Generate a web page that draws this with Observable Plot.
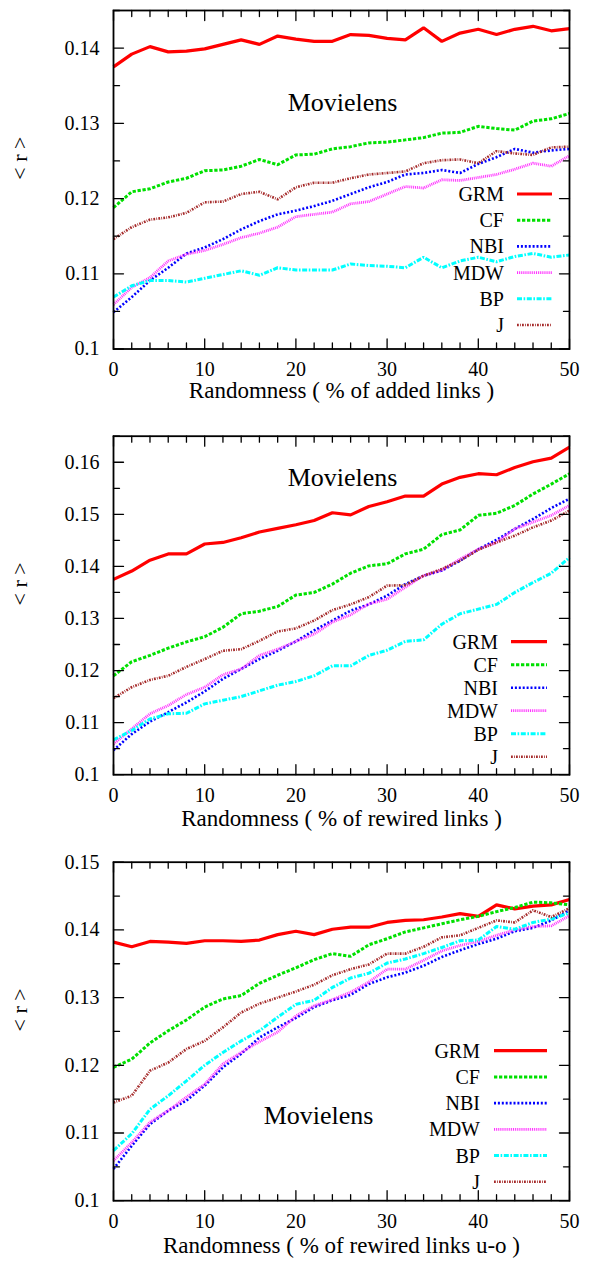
<!DOCTYPE html>
<html>
<head>
<meta charset="utf-8">
<script src="https://cdn.jsdelivr.net/npm/d3@7"></script>
<script src="https://cdn.jsdelivr.net/npm/@observablehq/plot@0.6"></script>
<style>
  html, body { margin: 0; padding: 0; background: white; }
  #chart > svg { display: block; }
</style>
</head>
<body>
<div id="chart"></div>
<script>
// ---------- data ----------
const xs = [0,2,4,6,8,10,12,14,16,18,20,22,24,26,28,30,32,34,36,38,40,42,44,46,48,50];
const seriesNames = ["GRM","CF","NBI","MDW","BP","J"];

// Panel 1: % of added links
const addGRM = [0.1375,0.1392,0.1402,0.1395,0.1396,0.1399,0.1405,0.1411,0.1405,0.1416,0.1412,0.1409,0.1409,0.1418,0.1417,0.1413,0.1411,0.1427,0.1409,0.1420,0.1425,0.1418,0.1425,0.1429,0.1423,0.1426];
const addCF  = [0.1188,0.1209,0.1213,0.1222,0.1227,0.1237,0.1238,0.1243,0.1252,0.1245,0.1258,0.1259,0.1266,0.1269,0.1274,0.1275,0.1278,0.1281,0.1287,0.1288,0.1296,0.1293,0.1291,0.1303,0.1306,0.1313];
const addNBI = [0.1049,0.1069,0.1091,0.1108,0.1127,0.1135,0.1146,0.1159,0.1170,0.1179,0.1184,0.1190,0.1197,0.1206,0.1215,0.1222,0.1232,0.1234,0.1238,0.1234,0.1246,0.1255,0.1266,0.1261,0.1264,0.1266];
const addMDW = [0.1059,0.1082,0.1095,0.1117,0.1126,0.1131,0.1139,0.1148,0.1154,0.1162,0.1176,0.1179,0.1182,0.1193,0.1196,0.1206,0.1216,0.1214,0.1225,0.1224,0.1228,0.1232,0.1239,0.1247,0.1243,0.1257];
const addBP  = [0.1069,0.1084,0.1091,0.1091,0.1089,0.1094,0.1099,0.1104,0.1098,0.1108,0.1105,0.1105,0.1105,0.1113,0.1111,0.1110,0.1108,0.1122,0.1108,0.1117,0.1122,0.1116,0.1123,0.1127,0.1122,0.1125];
const addJ   = [0.1146,0.1162,0.1172,0.1175,0.1181,0.1195,0.1196,0.1206,0.1209,0.1199,0.1215,0.1221,0.1221,0.1227,0.1232,0.1234,0.1236,0.1247,0.1251,0.1252,0.1247,0.1263,0.1260,0.1258,0.1268,0.1269];

// Panel 2: % of rewired links
const rewGRM = [0.1375,0.1391,0.1412,0.1424,0.1424,0.1443,0.1446,0.1455,0.1466,0.1473,0.1480,0.1488,0.1503,0.1499,0.1515,0.1524,0.1535,0.1535,0.1558,0.1571,0.1578,0.1576,0.1590,0.1601,0.1608,0.1629];
const rewCF  = [0.1190,0.1217,0.1229,0.1243,0.1255,0.1265,0.1283,0.1309,0.1314,0.1323,0.1345,0.1350,0.1366,0.1387,0.1401,0.1405,0.1424,0.1433,0.1461,0.1470,0.1498,0.1502,0.1517,0.1539,0.1558,0.1578];
const rewNBI = [0.1047,0.1078,0.1102,0.1120,0.1139,0.1160,0.1184,0.1203,0.1222,0.1238,0.1256,0.1277,0.1296,0.1315,0.1327,0.1344,0.1366,0.1382,0.1392,0.1411,0.1433,0.1451,0.1472,0.1491,0.1512,0.1530];
const rewMDW = [0.1059,0.1088,0.1117,0.1133,0.1154,0.1168,0.1192,0.1203,0.1229,0.1241,0.1256,0.1270,0.1293,0.1307,0.1328,0.1337,0.1360,0.1382,0.1393,0.1414,0.1433,0.1446,0.1472,0.1485,0.1498,0.1517];
const rewBP  = [0.1067,0.1085,0.1107,0.1117,0.1118,0.1136,0.1143,0.1150,0.1161,0.1172,0.1179,0.1190,0.1209,0.1209,0.1229,0.1239,0.1256,0.1259,0.1289,0.1309,0.1318,0.1327,0.1350,0.1369,0.1387,0.1417];
const rewJ   = [0.1147,0.1168,0.1182,0.1190,0.1207,0.1222,0.1238,0.1241,0.1257,0.1275,0.1281,0.1296,0.1316,0.1327,0.1341,0.1363,0.1364,0.1382,0.1395,0.1411,0.1432,0.1446,0.1459,0.1475,0.1488,0.1507];

// Panel 3: % of rewired links u-o
const uoGRM = [0.1382,0.1375,0.1383,0.1382,0.1380,0.1384,0.1384,0.1383,0.1385,0.1393,0.1398,0.1393,0.1401,0.1404,0.1404,0.1411,0.1414,0.1415,0.1419,0.1424,0.1420,0.1437,0.1431,0.1435,0.1437,0.1445];
const uoCF  = [0.1197,0.1209,0.1233,0.1251,0.1267,0.1286,0.1298,0.1303,0.1321,0.1333,0.1344,0.1356,0.1365,0.1361,0.1378,0.1387,0.1397,0.1403,0.1409,0.1415,0.1420,0.1427,0.1433,0.1441,0.1440,0.1437];
const uoNBI = [0.1047,0.1081,0.1113,0.1133,0.1148,0.1170,0.1197,0.1217,0.1241,0.1256,0.1270,0.1286,0.1296,0.1304,0.1320,0.1330,0.1337,0.1347,0.1360,0.1370,0.1379,0.1387,0.1398,0.1403,0.1414,0.1429];
const uoMDW = [0.1059,0.1086,0.1116,0.1133,0.1153,0.1172,0.1202,0.1219,0.1235,0.1249,0.1273,0.1288,0.1297,0.1308,0.1323,0.1342,0.1342,0.1355,0.1369,0.1377,0.1383,0.1392,0.1400,0.1405,0.1406,0.1421];
const uoBP  = [0.1074,0.1099,0.1135,0.1155,0.1177,0.1200,0.1219,0.1236,0.1251,0.1271,0.1290,0.1296,0.1315,0.1329,0.1336,0.1351,0.1357,0.1365,0.1374,0.1384,0.1385,0.1405,0.1401,0.1411,0.1416,0.1425];
const uoJ   = [0.1145,0.1155,0.1192,0.1204,0.1224,0.1236,0.1256,0.1278,0.1291,0.1300,0.1309,0.1319,0.1333,0.1342,0.1349,0.1365,0.1365,0.1375,0.1389,0.1392,0.1403,0.1414,0.1411,0.1429,0.1419,0.1432];

const xTickLabels = [0,10,20,30,40,50];
const yTicks1 = [0.1,0.11,0.12,0.13,0.14];
const yTicks2 = [0.1,0.11,0.12,0.13,0.14,0.15,0.16];
const yTicks3 = [0.1,0.11,0.12,0.13,0.14,0.15];

// ---------- styles ----------
const styles = {
  GRM: {stroke: "#ff0000", strokeWidth: 3.2, dash: null},
  CF:  {stroke: "#00e000", strokeWidth: 3,   dash: "3.3,1.7"},
  NBI: {stroke: "#0000ff", strokeWidth: 2.6, dash: "2,1.9"},
  MDW: {stroke: "#ff33ff", strokeWidth: 2.8, dash: "1,0.9"},
  BP:  {stroke: "#00ffff", strokeWidth: 3,   dash: "5,1.6,1.6,1.6"},
  J:   {stroke: "#a52a2a", strokeWidth: 2.6, dash: "1.8,1.2,0.8,1.2"}
};
const FONT = "'Liberation Serif', 'Times New Roman', serif";
const tickShape = {draw(ctx, l) { ctx.moveTo(0, 0); ctx.lineTo(0, -l); }};

function makePanel(cfg) {
  const W = 592, H = 421, ML = 113, MR = 23;
  const marks = [];
  cfg.series.forEach((vals, k) => {
    const st = styles[seriesNames[k]];
    marks.push(Plot.line(vals, {
      x: (d, i) => xs[i], y: d => d,
      stroke: st.stroke, strokeWidth: st.strokeWidth,
      strokeDasharray: st.dash, strokeLinejoin: "miter", strokeLinecap: "butt"
    }));
  });
  const xMinor = d3.range(0, 51, 2).filter(d => d % 10 !== 0);
  const yMinor = d3.range(0, Math.round((cfg.yDomain[1] - 0.1) / 0.005) + 1).map(i => 0.1 + i * 0.005).filter(d => Math.abs(d * 100 - Math.round(d * 100)) > 1e-6);
  const tk = {anchor: "start", shape: tickShape, stroke: "black", strokeWidth: 1.3};
  marks.push(
    Plot.vector(xTickLabels, {...tk, x: d => d, frameAnchor: "bottom", rotate: 0, length: 10}),
    Plot.vector(xTickLabels, {...tk, x: d => d, frameAnchor: "top", rotate: 180, length: 10}),
    Plot.vector(xMinor, {...tk, x: d => d, frameAnchor: "bottom", rotate: 0, length: 6}),
    Plot.vector(xMinor, {...tk, x: d => d, frameAnchor: "top", rotate: 180, length: 6}),
    Plot.vector(cfg.yTicks, {...tk, y: d => d, frameAnchor: "left", rotate: 90, length: 10}),
    Plot.vector(cfg.yTicks, {...tk, y: d => d, frameAnchor: "right", rotate: -90, length: 10}),
    Plot.vector(yMinor, {...tk, y: d => d, frameAnchor: "left", rotate: 90, length: 6}),
    Plot.vector(yMinor, {...tk, y: d => d, frameAnchor: "right", rotate: -90, length: 6}),
    Plot.frame({stroke: "black", strokeWidth: 1.8}),
    Plot.axisX({ticks: xTickLabels, tickSize: 0, tickPadding: 13, label: null, fontSize: 20, tickFormat: d => String(d)}),
    Plot.axisY({ticks: cfg.yTicks, tickSize: 0, tickPadding: 14, label: null, fontSize: 20, tickFormat: d => String(+d.toFixed(2))}),
    Plot.text([cfg.xLabel], {frameAnchor: "bottom", dy: cfg.xLabelDy, fontSize: 23, text: d => d}),
    Plot.text(["< r >"], {frameAnchor: "left", dx: -94, rotate: -90, fontSize: 22, text: d => d}),
    Plot.text(["Movielens"], {frameAnchor: "top-left", dx: cfg.titleDx, dy: cfg.titleDy, fontSize: 26,
      textAnchor: "middle", lineAnchor: "middle", text: d => d})
  );
  // legend
  const lg = cfg.legend;
  marks.push(() => {
    const g = d3.create("svg:g");
    seriesNames.forEach((name, i) => {
      const st = styles[name];
      const y = lg.y0 + i * lg.step;
      g.append("text").attr("x", lg.textRight).attr("y", y).attr("dy", "0.35em")
        .attr("text-anchor", "end").attr("font-size", 20).attr("font-family", FONT)
        .attr("fill", "black").text(name);
      g.append("line").attr("x1", lg.x1).attr("x2", lg.x2).attr("y1", y).attr("y2", y)
        .attr("stroke", st.stroke).attr("stroke-width", st.strokeWidth)
        .attr("stroke-dasharray", st.dash);
    });
    return g.node();
  });
  return Plot.plot({
    width: W, height: H, marginLeft: ML, marginRight: MR,
    marginTop: cfg.marginTop, marginBottom: H - cfg.marginTop - 338.5,
    x: {domain: [0, 50]},
    y: {domain: cfg.yDomain},
    style: {fontFamily: FONT, fontSize: "20px", color: "black", background: "white", overflow: "visible"},
    marks
  });
}

const chart = document.getElementById("chart");
chart.append(makePanel({
  series: [addGRM, addCF, addNBI, addMDW, addBP, addJ],
  yDomain: [0.1, 0.145], yTicks: yTicks1,
  marginTop: 10, xLabel: "Randomness ( % of added links )", xLabelDy: 49,
  titleDx: 229, titleDy: 92,
  legend: {textRight: 504, x1: 517, x2: 552, y0: 194, step: 26.2}
}));
chart.append(makePanel({
  series: [rewGRM, rewCF, rewNBI, rewMDW, rewBP, rewJ],
  yDomain: [0.1, 0.165], yTicks: yTicks2,
  marginTop: 14.7, xLabel: "Randomness ( % of rewired links )", xLabelDy: 51,
  titleDx: 229, titleDy: 41,
  legend: {textRight: 498, x1: 511, x2: 547, y0: 220.7, step: 23}
}));
chart.append(makePanel({
  series: [uoGRM, uoCF, uoNBI, uoMDW, uoBP, uoJ],
  yDomain: [0.1, 0.15], yTicks: yTicks3,
  marginTop: 19.7, xLabel: "Randomness ( % of rewired links u-o )", xLabelDy: 52,
  titleDx: 205, titleDy: 253,
  legend: {textRight: 480, x1: 494, x2: 547, y0: 208.7, step: 26.2}
}));
</script>
</body>
</html>
